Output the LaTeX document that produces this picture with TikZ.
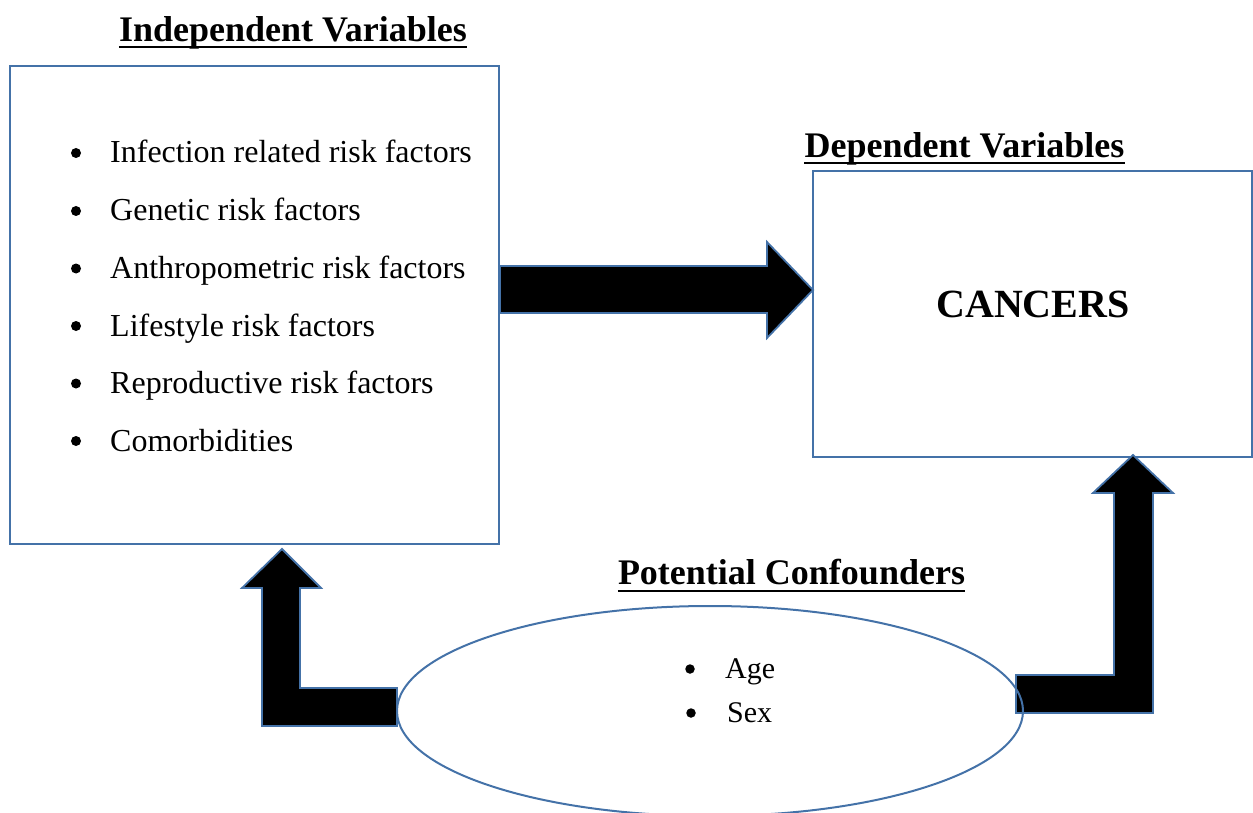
\documentclass[tikz,border=0pt]{standalone}
\usepackage{fontspec}
\setmainfont{Liberation Serif}
\usetikzlibrary{shapes.geometric}
\definecolor{edgeblue}{RGB}{68,114,168}
\tikzset{
  box/.style={draw=edgeblue, line width=2pt, fill=white, inner sep=0pt},
  title/.style={font=\fontsize{36}{40}\selectfont\bfseries, inner sep=0pt, anchor=base},
  ul/.style={line width=2.8pt, black},
  item/.style={font=\fontsize{32}{36}\selectfont, inner sep=0pt, anchor=base west},
  small/.style={font=\fontsize{30}{34}\selectfont, inner sep=0pt, anchor=base west},
  dot/.style={circle, fill=black, inner sep=0pt, minimum size=10pt},
  blockarrow/.style={fill=black, draw=edgeblue, line width=1.8pt, line join=miter},
}
\begin{document}
\begin{tikzpicture}[x=1pt,y=-1pt]
\useasboundingbox (0,0) rectangle (1253,813);
% boxes
\node[box, minimum width=489pt, minimum height=478pt] (indep) at (254.5,305) {};
\node[box, minimum width=439pt, minimum height=286pt] (dep) at (1032.5,314) {};
% titles
\node[title] (t1) at (293,42) {Independent Variables};
\draw[ul] ([yshift=-5pt]t1.base west) -- ([yshift=-5pt]t1.base east);
\node[title] (t2) at (964.5,158) {Dependent Variables};
\draw[ul] ([yshift=-5pt]t2.base west) -- ([yshift=-5pt]t2.base east);
\node[title] (t3) at (791.5,584) {Potential Confounders};
\draw[ul] ([yshift=-7pt]t3.base west) -- ([yshift=-7pt]t3.base east);
% list items
\node[item] (i1) at (110,163) {Infection related risk factors};
\node[item] (i2) at (110,221) {Genetic risk factors};
\node[item] (i3) at (110,278.5) {Anthropometric risk factors};
\node[item] (i4) at (110,336) {Lifestyle risk factors};
\node[item] (i5) at (110,393.5) {Reproductive risk factors};
\node[item] (i6) at (110,451) {Comorbidities};
\foreach \n/\y in {b1/163,b2/221,b3/278.5,b4/336,b5/393.5,b6/451}
  \node[dot] (\n) at (76,\y-10) {};
% CANCERS
\node[font=\fontsize{40}{44}\selectfont\bfseries, inner sep=0pt, anchor=base] (can) at (1033,317) {CANCERS};
% block arrows
\draw[blockarrow] (500,266) -- (767,266) -- (767,242) -- (813,290) -- (767,338) -- (767,313) -- (500,313) -- cycle;
\draw[blockarrow] (397,688) -- (300,688) -- (300,588) -- (321,588) -- (282,549) -- (242,588) -- (262,588) -- (262,726) -- (397,726) -- cycle;
\draw[blockarrow] (1016,675) -- (1114,675) -- (1114,493) -- (1093,493) -- (1133,455) -- (1173,493) -- (1153,493) -- (1153,713) -- (1016,713) -- cycle;
% ellipse
\node[ellipse, draw=edgeblue, line width=2pt, minimum width=626pt, minimum height=210pt, inner sep=0pt] (conf) at (710,711) {};
\node[small] (age) at (725,678) {Age};
\node[small] (sex) at (727,722) {Sex};
\node[dot, minimum size=9.5pt] (ba) at (690,669) {};
\node[dot, minimum size=9.5pt] (bs) at (691,713) {};
\end{tikzpicture}
\end{document}
